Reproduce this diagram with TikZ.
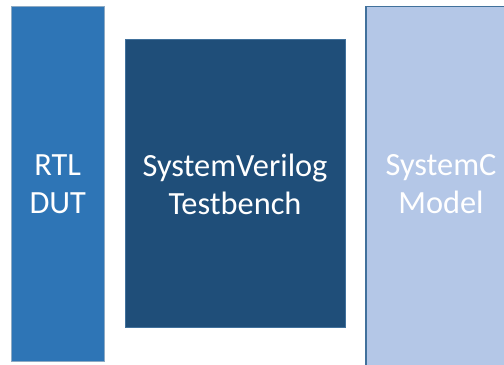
\documentclass[tikz,border=0pt]{standalone}
\usepackage{fontspec}
\setmainfont{Carlito}
\definecolor{rtlblue}{HTML}{2E75B6}
\definecolor{tbblue}{HTML}{1F4E79}
\definecolor{scblue}{HTML}{B4C7E7}
\definecolor{edgeblue}{HTML}{41719C}
\begin{document}
\begin{tikzpicture}[x=1bp,y=-1bp,
  block/.style={inner sep=0pt, align=center, text=white,
    font=\fontsize{32.5}{38}\selectfont}]
\useasboundingbox (0,0) rectangle (504,364);
\fill[white] (0,0) rectangle (504,364);
\begin{scope}
\clip (0,0) rectangle (504,364);
% RTL design under test
\draw[fill=rtlblue, draw=edgeblue!60, line width=0.8bp] (11,6) rectangle (104.5,361);
\node[block] (dut) at (57.75,184) {RTL\\DUT};
% testbench
\draw[fill=tbblue, draw=edgeblue, line width=1bp] (125,39) rectangle (345,327);
\node[block] (tb) at (235,184) {SystemVerilog\\Testbench};
% reference model
\draw[fill=scblue, draw=edgeblue, line width=1.5bp] (366,6.5) rectangle (517,372);
\node[block] (sc) at (441,184) {SystemC\\Model};
\end{scope}
\end{tikzpicture}
\end{document}
